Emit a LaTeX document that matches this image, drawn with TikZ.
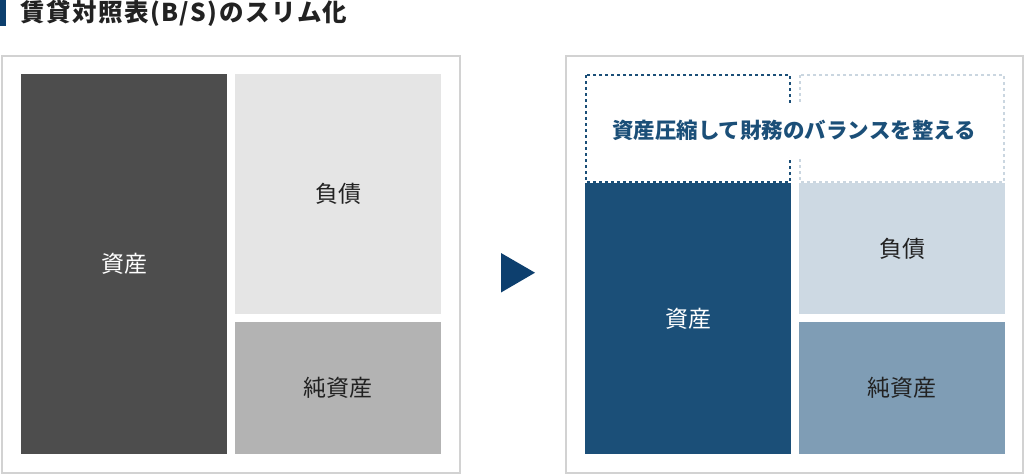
\documentclass[tikz,border=0pt]{standalone}
\usepackage{fontspec}
\newfontfamily\jp{Noto Sans CJK JP}
\newfontfamily\jpt[LetterSpace=6]{Noto Sans CJK JP}
\usetikzlibrary{shapes.geometric}
\definecolor{frame}{HTML}{D2D2D2}
\definecolor{dgray}{HTML}{4D4D4D}
\definecolor{lgray}{HTML}{E5E5E5}
\definecolor{mgray}{HTML}{B3B3B3}
\definecolor{navy}{HTML}{0D3F6E}
\definecolor{bblue}{HTML}{1B4F78}
\definecolor{lblue}{HTML}{CDD9E3}
\definecolor{mblue}{HTML}{7F9DB5}
\definecolor{ink}{HTML}{222222}
\definecolor{dashl}{HTML}{CAD6E0}
\tikzset{
  panel/.style={draw=frame, line width=2pt},
  blk/.style={inner sep=0pt, anchor=north west, font=\jp\fontsize{23}{23}\selectfont},
  dbox/.style={draw, dashed, line width=2pt, dash pattern=on 3pt off 3pt},
}
\begin{document}
\begin{tikzpicture}[x=1pt,y=-1pt]
\useasboundingbox (0,0) rectangle (1025,474);
% title
\fill[navy] (0,0) rectangle (6,26);
\node[anchor=west, inner sep=0pt, text=ink, font=\jpt\bfseries\fontsize{24.5}{24.5}\selectfont] (title) at (20,13.5) {賃貸対照表(B/S)のスリム化};
% panels
\draw[panel] (1.5,55.5) rectangle (460,472.5);
\draw[panel] (566,55.5) rectangle (1023,472.5);
% left panel
\node[blk, fill=dgray, text=white, minimum width=206pt, minimum height=380pt] (la) at (21,74) {資産};
\node[blk, fill=lgray, text=ink, minimum width=206pt, minimum height=240pt] (ll) at (235,74) {負債};
\node[blk, fill=mgray, text=ink, minimum width=206pt, minimum height=132pt] (le) at (235,322) {純資産};
% arrow
\fill[navy] (501,253) -- (535,272.7) -- (501,292.5) -- cycle;
% right panel
\node[blk, fill=bblue, text=white, minimum width=206pt, minimum height=271pt] (ra) at (585,183) {資産};
\node[blk, fill=lblue, text=ink, minimum width=206pt, minimum height=131pt] (rl) at (799,183) {負債};
\node[blk, fill=mblue, text=ink, minimum width=206pt, minimum height=132pt] (re) at (799,322) {純資産};
\draw[dbox, dashl] (800,75) rectangle (1004,182);
\draw[dbox, bblue] (586,75) rectangle (790,182);
\node[fill=white, inner xsep=3pt, inner ysep=17pt, text=bblue, font=\jp\bfseries\fontsize{21.5}{21.5}\selectfont] (msg) at (794,130) {資産圧縮して財務のバランスを整える};
\end{tikzpicture}
\end{document}
